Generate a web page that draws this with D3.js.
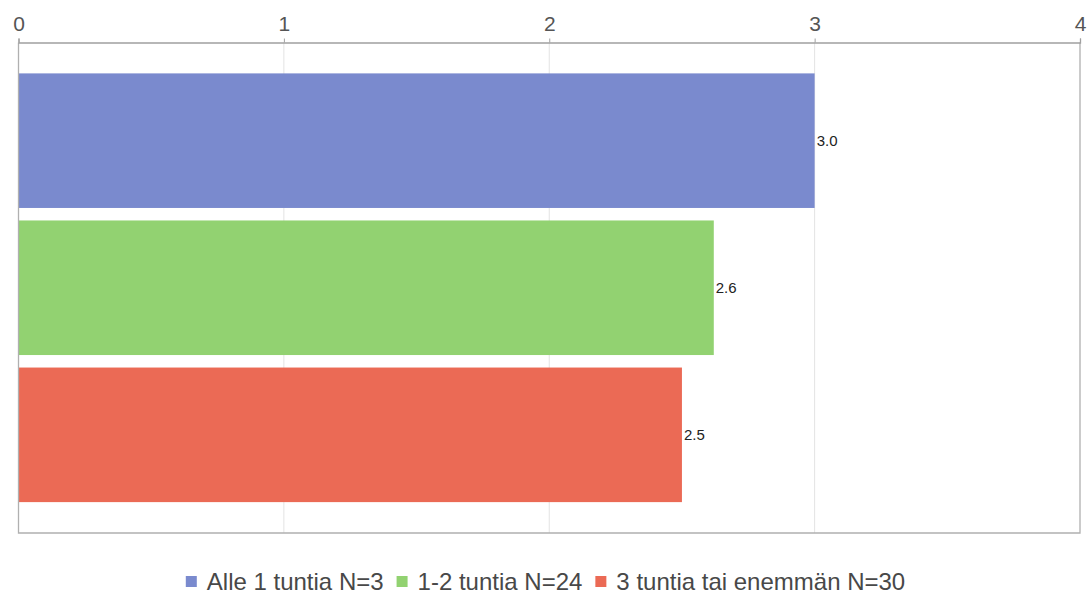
<!DOCTYPE html>
<html>
<head>
<meta charset="utf-8">
<script src="https://cdn.jsdelivr.net/npm/d3@7"></script>
<style>
  html, body { margin: 0; padding: 0; background: #fff; }
  svg { display: block; font-family: "Liberation Sans", Arial, sans-serif; }
</style>
</head>
<body>
<svg id="chart" width="1091" height="594"></svg>
<script>
// Average value per group (horizontal grouped bars)
const seriesNames = ["Alle 1 tuntia N=3", "1-2 tuntia N=24", "3 tuntia tai enemmän N=30"];
const seriesValues = [3.0, 2.62, 2.5];
const seriesColors = ["#7a8ace", "#92d271", "#eb6a55"];
const tickValues = [0, 1, 2, 3, 4];

const svg = d3.select("#chart");
const margin = { top: 42.5, right: 11, bottom: 61, left: 18.5 };
const W = 1091, H = 594;
const plotW = W - margin.left - margin.right;
const plotH = H - margin.top - margin.bottom;

const g = svg.append("g").attr("transform", `translate(${margin.left},${margin.top})`);

const x = d3.scaleLinear().domain([0, 4]).range([0, plotW]);
const y = d3.scaleBand().domain(seriesNames).range([0, plotH])
  .paddingInner(0.085).paddingOuter(0.21);

// vertical gridlines
g.selectAll("line.grid").data(tickValues.slice(1, -1)).join("line")
  .attr("class", "grid")
  .attr("x1", d => x(d)).attr("x2", d => x(d))
  .attr("y1", 0).attr("y2", plotH)
  .attr("stroke", "#e3e3e3").attr("stroke-width", 1);

// bars
g.selectAll("rect.bar").data(seriesNames).join("rect")
  .attr("class", "bar")
  .attr("x", 0)
  .attr("y", d => y(d))
  .attr("width", (d, i) => x(seriesValues[i]))
  .attr("height", y.bandwidth())
  .attr("fill", (d, i) => seriesColors[i]);

// value labels
g.selectAll("text.val").data(seriesNames).join("text")
  .attr("class", "val")
  .attr("x", (d, i) => x(seriesValues[i]) + 2)
  .attr("y", d => y(d) + y.bandwidth() / 2)
  .attr("dy", "0.35em")
  .attr("font-size", 15)
  .attr("fill", "#222")
  .text((d, i) => d3.format(".1f")(seriesValues[i]));

// plot frame (left, right, bottom)
g.append("path")
  .attr("d", `M0,0V${plotH}H${plotW}V0`)
  .attr("fill", "none").attr("stroke", "#b0b0b0").attr("stroke-width", 1.3);

// top axis
const axis = d3.axisTop(x).tickValues(tickValues).tickSize(4).tickPadding(8).tickFormat(d3.format("d"));
const ax = g.append("g").call(axis);
ax.select(".domain").attr("stroke", "#a0a0a0").attr("stroke-width", 1.3);
ax.selectAll(".tick line").attr("stroke", "#a0a0a0");
ax.selectAll(".tick text")
  .attr("font-family", "Liberation Sans, Arial, sans-serif")
  .attr("font-size", 21).attr("fill", "#555");

// legend
const legend = svg.append("g").attr("transform", `translate(0, 581.5)`);
const items = legend.selectAll("g").data(seriesNames).join("g");
items.append("rect").attr("width", 11).attr("height", 11).attr("y", -5.5)
  .attr("fill", (d, i) => seriesColors[i]);
items.append("text").attr("x", 21).attr("dy", "0.35em")
  .attr("font-size", 24).attr("fill", "#484848").text(d => d);
const widths = [];
items.each(function () { widths.push(this.getBBox().width); });
const gap = 13;
const total = d3.sum(widths) + gap * (widths.length - 1);
const start = (W - total) / 2;
items.attr("transform", (d, i) => {
  const tx = start + d3.sum(widths.slice(0, i)) + gap * i;
  return `translate(${tx},0)`;
});
</script>
</body>
</html>
